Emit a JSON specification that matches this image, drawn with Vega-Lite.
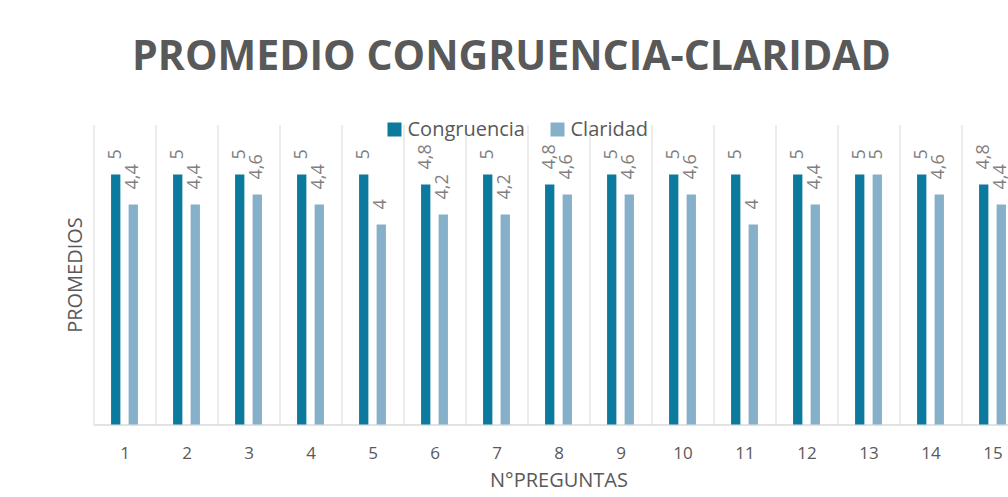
{
  "$schema": "https://vega.github.io/schema/vega-lite/v6.json",
  "width": 930,
  "height": 300,
  "autosize": {"type": "none"},
  "padding": {"left": 93.5, "top": 124.5, "right": 0, "bottom": 73},
  "background": "white",
  "title": {
    "text": "PROMEDIO CONGRUENCIA-CLARIDAD",
    "fontSize": 41,
    "fontWeight": "bold",
    "font": "Open Sans",
    "color": "#595959",
    "anchor": "middle",
    "frame": "group",
    "dx": -47,
    "baseline": "alphabetic",
    "offset": 9
  },
  "data": {
    "values": [
      {"pregunta": 1, "serie": "Congruencia", "valor": 5},
      {"pregunta": 1, "serie": "Claridad", "valor": 4.4},
      {"pregunta": 2, "serie": "Congruencia", "valor": 5},
      {"pregunta": 2, "serie": "Claridad", "valor": 4.4},
      {"pregunta": 3, "serie": "Congruencia", "valor": 5},
      {"pregunta": 3, "serie": "Claridad", "valor": 4.6},
      {"pregunta": 4, "serie": "Congruencia", "valor": 5},
      {"pregunta": 4, "serie": "Claridad", "valor": 4.4},
      {"pregunta": 5, "serie": "Congruencia", "valor": 5},
      {"pregunta": 5, "serie": "Claridad", "valor": 4},
      {"pregunta": 6, "serie": "Congruencia", "valor": 4.8},
      {"pregunta": 6, "serie": "Claridad", "valor": 4.2},
      {"pregunta": 7, "serie": "Congruencia", "valor": 5},
      {"pregunta": 7, "serie": "Claridad", "valor": 4.2},
      {"pregunta": 8, "serie": "Congruencia", "valor": 4.8},
      {"pregunta": 8, "serie": "Claridad", "valor": 4.6},
      {"pregunta": 9, "serie": "Congruencia", "valor": 5},
      {"pregunta": 9, "serie": "Claridad", "valor": 4.6},
      {"pregunta": 10, "serie": "Congruencia", "valor": 5},
      {"pregunta": 10, "serie": "Claridad", "valor": 4.6},
      {"pregunta": 11, "serie": "Congruencia", "valor": 5},
      {"pregunta": 11, "serie": "Claridad", "valor": 4},
      {"pregunta": 12, "serie": "Congruencia", "valor": 5},
      {"pregunta": 12, "serie": "Claridad", "valor": 4.4},
      {"pregunta": 13, "serie": "Congruencia", "valor": 5},
      {"pregunta": 13, "serie": "Claridad", "valor": 5},
      {"pregunta": 14, "serie": "Congruencia", "valor": 5},
      {"pregunta": 14, "serie": "Claridad", "valor": 4.6},
      {"pregunta": 15, "serie": "Congruencia", "valor": 4.8},
      {"pregunta": 15, "serie": "Claridad", "valor": 4.4}
    ]
  },
  "encoding": {
    "x": {
      "field": "pregunta",
      "type": "ordinal",
      "scale": {"paddingInner": 0, "paddingOuter": 0},
      "axis": {
        "title": "N°PREGUNTAS",
        "labelAngle": 0,
        "ticks": false,
        "tickSize": 0,
        "tickBand": "extent",
        "grid": true,
        "gridColor": "#d9d9d9",
        "gridWidth": 1,
        "domainColor": "#d9d9d9",
        "domainWidth": 1.5,
        "labelFont": "Open Sans",
        "labelFontSize": 17,
        "labelColor": "#595959",
        "labelPadding": 21,
        "titleFont": "Open Sans",
        "titleFontSize": 20,
        "titleFontWeight": "normal",
        "titleColor": "#595959",
        "titlePadding": 9
      }
    },
    "xOffset": {
      "field": "serie",
      "type": "nominal",
      "sort": ["Congruencia", "Claridad"],
      "scale": {"paddingInner": 0.47, "paddingOuter": 1.17}
    },
    "y": {
      "field": "valor",
      "type": "quantitative",
      "scale": {"domain": [0, 6], "nice": false},
      "axis": {
        "title": "PROMEDIOS",
        "labels": false,
        "ticks": false,
        "domain": false,
        "grid": false,
        "titleFont": "Open Sans",
        "titleFontSize": 20,
        "titleFontWeight": "normal",
        "titleColor": "#595959",
        "titlePadding": 8
      }
    }
  },
  "layer": [
    {
      "mark": {"type": "bar"},
      "encoding": {
        "color": {
          "field": "serie",
          "type": "nominal",
          "sort": ["Congruencia", "Claridad"],
          "scale": {"domain": ["Congruencia", "Claridad"], "range": ["#0b7a9c", "#86afc9"]},
          "legend": {
            "title": null,
            "orient": "none",
            "direction": "horizontal",
            "legendX": 291,
            "legendY": -5,
            "padding": 0,
            "symbolType": "square",
            "symbolSize": 196,
            "symbolStrokeWidth": 0,
            "symbolOpacity": 1,
            "labelFont": "Open Sans",
            "labelFontSize": 20,
            "labelColor": "#595959",
            "labelOffset": 3,
            "columnPadding": 22
          }
        }
      }
    },
    {
      "mark": {
        "type": "text",
        "angle": 270,
        "align": "left",
        "baseline": "middle",
        "dx": 15,
        "font": "Open Sans",
        "fontSize": 18,
        "color": "#7f7f7f"
      },
      "encoding": {
        "text": {"field": "valor", "type": "quantitative", "format": "~g"}
      }
    }
  ],
  "config": {
    "view": {"stroke": null},
    "locale": {
      "number": {"decimal": ",", "thousands": ".", "grouping": [3], "currency": ["", " €"]}
    }
  }
}
